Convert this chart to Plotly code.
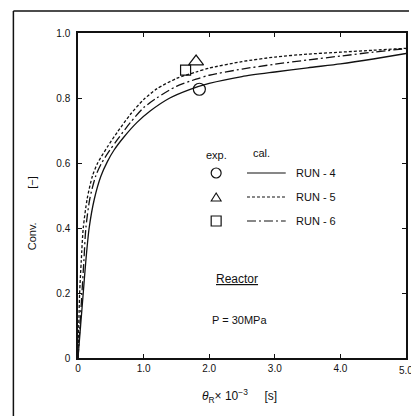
import plotly.graph_objects as go

# ---- data ----
x_run4 = [0, 0.04, 0.08, 0.12, 0.17, 0.25, 0.35, 0.45, 0.55, 0.7, 0.9, 1.1, 1.4, 1.7, 2.0, 2.5, 3.0, 3.5, 4.0, 4.5, 5.0]
y_run4 = [0, 0.10, 0.20, 0.30, 0.40, 0.49, 0.56, 0.605, 0.64, 0.68, 0.725, 0.76, 0.80, 0.826, 0.845, 0.866, 0.88, 0.893, 0.905, 0.92, 0.937]

x_run5 = [0, 0.025, 0.05, 0.08, 0.14, 0.22, 0.3, 0.45, 0.6, 0.8, 1.0, 1.2, 1.5, 1.8, 2.0, 2.5, 3.0, 3.5, 4.0, 4.5, 5.0]
y_run5 = [0, 0.20, 0.30, 0.40, 0.49, 0.56, 0.60, 0.65, 0.695, 0.75, 0.795, 0.828, 0.86, 0.88, 0.892, 0.912, 0.926, 0.935, 0.941, 0.947, 0.953]

x_run6 = [0, 0.03, 0.06, 0.09, 0.12, 0.18, 0.27, 0.36, 0.48, 0.6, 0.8, 1.0, 1.2, 1.5, 1.8, 2.0, 2.5, 3.0, 3.5, 4.0, 4.5, 5.0]
y_run6 = [0, 0.10, 0.20, 0.30, 0.40, 0.49, 0.56, 0.60, 0.638, 0.672, 0.725, 0.77, 0.80, 0.836, 0.858, 0.87, 0.889, 0.904, 0.917, 0.929, 0.941, 0.952]

exp_x = {"RUN-4": [1.85], "RUN-5": [1.80], "RUN-6": [1.64]}
exp_y = {"RUN-4": [0.827], "RUN-5": [0.912], "RUN-6": [0.886]}

x_tickvals = [0, 1, 2, 3, 4, 5]
x_ticktext = ["0", "1.0", "2.0", "3.0", "4.0", "5.0"]
y_tickvals = [0, 0.2, 0.4, 0.6, 0.8, 1.0]
y_ticktext = ["0", "0.2", "0.4", "0.6", "0.8", "1.0"]

W, H = 411, 416
L, R, T, B = 78, 3, 33, 58
PW, PH = W - L - R, H - T - B


def px(xp):
    return (xp - L) / PW


def py(yp):
    return (H - B - yp) / PH


FONT = "Liberation Sans, Arial, sans-serif"
BLACK = "#111111"

fig = go.Figure()

line_styles = {
    "RUN-4": "solid",
    "RUN-5": "3px,2px",
    "RUN-6": "9px,3px,2px,3px",
}
for name, xs, ys in [("RUN-4", x_run4, y_run4), ("RUN-5", x_run5, y_run5), ("RUN-6", x_run6, y_run6)]:
    fig.add_trace(go.Scatter(x=xs, y=ys, mode="lines",
                             line=dict(color=BLACK, width=1.3, dash=line_styles[name], shape="spline", smoothing=0.7),
                             showlegend=False))

symbols = {"RUN-4": "circle-open", "RUN-5": "triangle-up-open", "RUN-6": "square-open"}
sizes = {"RUN-4": 12, "RUN-5": 13, "RUN-6": 10}
for name in ["RUN-4", "RUN-5", "RUN-6"]:
    fig.add_trace(go.Scatter(x=exp_x[name], y=exp_y[name], mode="markers",
                             marker=dict(symbol=symbols[name], size=sizes[name], color=BLACK,
                                         line=dict(width=1.2, color=BLACK)),
                             showlegend=False))

shapes = []
annotations = []


def note(text, x, y, size=11, xanchor="center", xref="paper", **kw):
    annotations.append(dict(text=text, x=x, y=y, xref=xref, yref="paper", showarrow=False,
                            xanchor=xanchor, yanchor="middle",
                            font=dict(size=size, family=FONT, color=BLACK), **kw))


# outer frame
shapes.append(dict(type="line", xref="paper", yref="paper", x0=px(13), x1=px(13), y0=py(11), y1=py(416),
                   line=dict(color=BLACK, width=1.5)))
shapes.append(dict(type="line", xref="paper", yref="paper", x0=px(13), x1=px(411), y0=py(11), y1=py(11),
                   line=dict(color=BLACK, width=1.5)))

# legend header
note("exp.", px(217), py(155))
note("cal.", px(263), py(153))

rows = [("RUN-4", 173), ("RUN-5", 197), ("RUN-6", 221)]
for name, yrow in rows:
    cx = 217
    if name == "RUN-4":
        shapes.append(dict(type="circle", xref="paper", yref="paper", x0=px(cx - 5), x1=px(cx + 5),
                           y0=py(yrow - 5), y1=py(yrow + 5), line=dict(color=BLACK, width=1.2)))
    elif name == "RUN-5":
        path = f"M {px(cx-5)} {py(yrow+4)} L {px(cx+5)} {py(yrow+4)} L {px(cx)} {py(yrow-4)} Z"
        shapes.append(dict(type="path", xref="paper", yref="paper", path=path, line=dict(color=BLACK, width=1.1)))
    else:
        shapes.append(dict(type="rect", xref="paper", yref="paper", x0=px(cx - 5), x1=px(cx + 5),
                           y0=py(yrow - 5), y1=py(yrow + 5), line=dict(color=BLACK, width=1.2)))
    shapes.append(dict(type="line", xref="paper", yref="paper", x0=px(248), x1=px(287), y0=py(yrow), y1=py(yrow),
                       line=dict(color=BLACK, width=1.1, dash=line_styles[name])))
    note(name.replace("-", " - "), px(295), py(yrow), xanchor="left")

note("<u>Reactor</u>", px(238), py(279), size=12)
note("P = 30MPa", px(240), py(320))

# clipped last x tick label, as in the reference
note(x_ticktext[-1], x_tickvals[-1], py(370), size=10, xref="x")

# axis titles
note("Conv.&nbsp;&nbsp;&nbsp;&nbsp;&nbsp;&nbsp;&nbsp;&nbsp;&nbsp;&nbsp;&nbsp;[−]", px(32), py(213), textangle=-90)
note("<i>θ</i><sub>R</sub>× 10<sup>−3</sup>&nbsp;&nbsp;&nbsp;&nbsp;&nbsp;[s]", px(240), py(396), size=12)

fig.update_layout(
    width=W, height=H,
    margin=dict(l=L, r=R, t=T, b=B),
    paper_bgcolor="white", plot_bgcolor="white",
    shapes=shapes, annotations=annotations,
    showlegend=False,
    font=dict(family=FONT, size=10, color=BLACK),
)
fig.update_xaxes(range=[0, 5], tickvals=x_tickvals[:-1], ticktext=x_ticktext[:-1], ticks="inside", ticklen=4,
                 tickcolor=BLACK, showline=True, linecolor=BLACK, linewidth=1.5, mirror="ticks",
                 showgrid=False, zeroline=False, tickfont=dict(size=10, family=FONT, color=BLACK))
fig.update_yaxes(range=[0, 1], tickvals=y_tickvals, ticktext=y_ticktext, ticks="inside", ticklen=4,
                 tickcolor=BLACK, showline=True, linecolor=BLACK, linewidth=1.5, mirror="ticks",
                 showgrid=False, zeroline=False, ticklabelstandoff=4,
                 tickfont=dict(size=10, family=FONT, color=BLACK))

fig.write_html("out.html")
